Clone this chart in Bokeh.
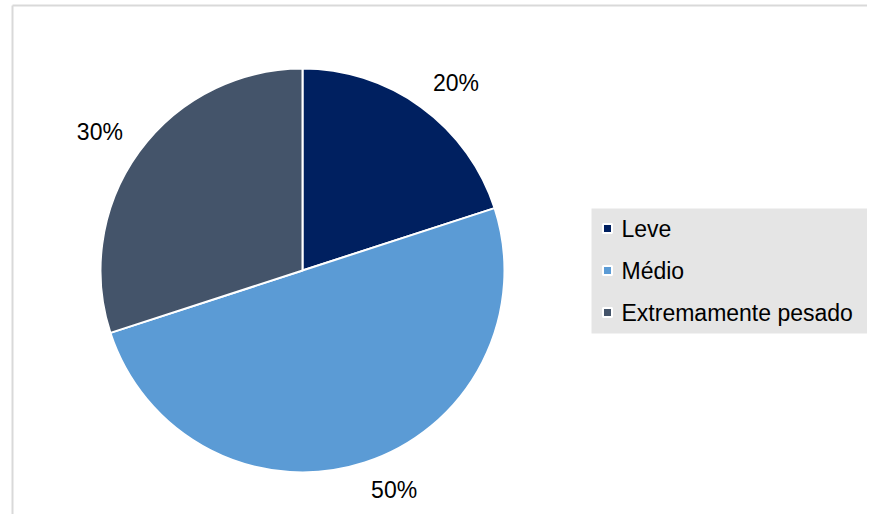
import numpy as np
from bokeh.plotting import figure
from bokeh.models import Range1d, ColumnDataSource
from bokeh.embed import file_html
from bokeh.resources import INLINE
from bokeh.core.properties import value

# ---- data ----
categories = ["Leve", "Médio", "Extremamente pesado"]
values = [20, 50, 30]
colors = ["#002060", "#5b9bd5", "#44546a"]

# ---- layout (pixel coordinates, origin top-left of the figure) ----
W, H = 867, 514
REF_H = 530
FONT = value("Liberation Sans")
FS = 23


def py(y):
    return REF_H - y


p = figure(width=W, height=H, output_backend="svg", toolbar_location=None,
           x_range=Range1d(0, W), y_range=Range1d(REF_H - H, REF_H),
           min_border=0)
p.axis.visible = False
p.grid.visible = False
p.outline_line_color = None
p.background_fill_color = "white"
p.border_fill_color = "white"

# chart area border
p.segment(x0=[12, 12], y0=[py(5), py(5)], x1=[12, 900], y1=[py(600), py(5)],
          line_color="#d9d9d9", line_width=2)

# pie
cx, cy, r = 302, py(270), 202
vals = np.array(values, dtype=float)
frac = vals / vals.sum()
ends = np.cumsum(frac)
starts = ends - frac
start_ang = np.pi / 2 - 2 * np.pi * starts
end_ang = np.pi / 2 - 2 * np.pi * ends
mid_ang = (start_ang + end_ang) / 2
pct = [f"{round(f * 100):d}%" for f in frac]

src = ColumnDataSource(dict(start=start_ang, end=end_ang, color=colors, cat=categories))
p.wedge(x=cx, y=cy, radius=r, start_angle="start", end_angle="end", direction="clock",
        fill_color="color", line_color="white", line_width=2, source=src)

# outside-end data labels: nearest corner of the label anchored at radius rho
rho = 222
cap = 0.716 * FS
for a, t in zip(mid_ang, pct):
    ax = cx + rho * np.cos(a)
    ay = cy + rho * np.sin(a)
    align = "left" if np.cos(a) >= 0 else "right"
    ty = ay + np.sign(np.sin(a)) * cap / 2
    p.text(x=[ax], y=[ty], text=[t], text_align=align, text_baseline="middle",
           text_font=FONT, text_font_size=f"{FS}px", text_color="#000000")

# legend
lx0, lx1, ly0, ly1 = 591, 900, 208, 333
p.quad(left=lx0, right=lx1, top=py(ly0), bottom=py(ly1), fill_color="#e5e5e5", line_color=None)
row_y = [py(228 + 42 * i) for i in range(len(categories))]
p.rect(x=607, y=row_y, width=9, height=9, fill_color=colors, line_color="white", line_width=2)
p.text(x=621, y=row_y, text=categories, text_baseline="middle", text_font=FONT,
       text_font_size=f"{FS}px", text_color="#000000")

open("out.html", "w").write(file_html(p, INLINE))
